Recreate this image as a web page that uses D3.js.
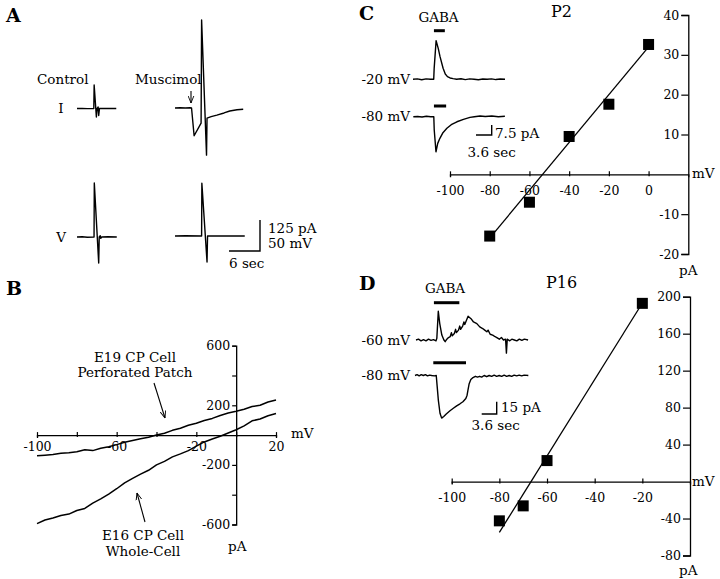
<!DOCTYPE html>
<html><head><meta charset="utf-8">
<script src="https://cdn.jsdelivr.net/npm/d3@7"></script>
<style>body{margin:0;background:#fff}svg{display:block}</style>
</head><body>
<script>
// ---------------- DATA ----------------
// Panel A traces: [time (s), current pA or voltage mV]
const controlI = [[0,0],[1,0.5],[2,-0.5],[3.25,0],[3.32,95],[3.75,-34],[3.9,0],[4.1,6],[4.2,-28],[4.35,0],[5,0.5],[6,0],[7.6,0]];
const muscimolI = [[0,0],[1,1],[2,0],[2.9,1],[3.2,0],[3.7,-112],[5.05,-61],[5.15,355],[6.1,-190],[6.2,-41],[7,-35],[8.1,-29],[9.5,-20],[10.6,-12],[12,-7],[13.2,-5]];
const controlV = [[0,0],[1,0.5],[2,-0.5],[3.3,0],[3.35,87],[4.2,-42],[4.3,0],[4.5,2],[4.6,-2],[4.8,0],[6,0.5],[7.7,0]];
const muscimolV = [[0,0],[2,0.5],[5.15,0],[5.2,85],[6.2,-42],[6.3,0],[13.5,0]];
const scaleA = {sec:6, pA:125, mV:50};

// Panel B I-V curves: [mV, pA]
const e19 = [[-100,-139],[-96,-135],[-92,-130],[-88,-122],[-84,-118],[-80,-112],[-76,-98],[-72,-104],[-68,-88],[-64,-78],[-60,-64],[-56,-48],[-52,-36],[-48,-24],[-44,-14],[-40,0],[-36,12],[-32,32],[-28,46],[-24,66],[-20,80],[-16,98],[-12,112],[-8,132],[-4,148],[0,160],[4,174],[8,192],[12,200],[16,222],[20,236]];
const e16 = [[-100,-594],[-96,-570],[-92,-556],[-88,-540],[-84,-530],[-80,-506],[-76,-492],[-72,-456],[-68,-428],[-64,-396],[-60,-360],[-56,-320],[-52,-290],[-48,-262],[-44,-236],[-40,-200],[-36,-176],[-32,-146],[-28,-126],[-24,-104],[-20,-74],[-16,-46],[-12,-26],[-8,-8],[-4,14],[0,36],[4,62],[8,96],[12,108],[16,130],[20,145]];
const bXTicks = [-100,-80,-60,-40,-20,0,20], bXLabels = [-100,-60,-20,20];
const bYTicks = [-600,-400,-200,200,400,600], bYLabels = [-600,-200,200,600];

// Panel C (P2)
const cMV = [-80,-60,-40,-20,0];
const cPA = [-15.5,-7.0,9.5,17.6,32.6];
const cFit = [[-77.5,-14.5],[0,32]];
const cXTicks = [-100,-80,-60,-40,-20,0];
const cYTicks = [-20,-10,10,20,30,40];
const cTraceM20 = [[0,0],[1,0.3],[2,-0.3],[3,0.3],[4,0],[4.75,0],[4.85,8],[5.3,29],[5.8,23],[6.2,17],[6.9,8.3],[7.4,4],[7.9,2],[8.5,1],[9.2,0.5],[10,0],[11,0.4],[12,-0.2],[13,0.3],[14,0],[15,-0.3],[16,0.2],[17,0],[18,0.3],[19,-0.2],[20,0.2],[21.1,0]];
const cTraceM80 = [[0,0],[1,0.2],[2,-0.2],[3,0.3],[4,0],[4.7,0],[4.8,-10],[5.2,-26.3],[5.6,-20],[6.1,-16.2],[6.8,-12],[7.7,-8.7],[8.7,-6],[10,-3.8],[11.5,-2],[13,-0.5],[14,0],[15.3,0.5],[16.5,0.2],[18,0.5],[19.5,0],[21,0.3]];
const cGaba = [[4.8,7.3],[4.8,7.6]];
const cScale = {sec:3.6, pA:7.5};

// Panel D (P16)
const dMV = [-80,-70,-60,-20];
const dPA = [-42.5,-26.3,22.7,192.8];
const dFit = [[-80,-55],[-20.5,191]];
const dXTicks = [-100,-80,-60,-40,-20];
const dYTicks = [-80,-40,40,80,120,160,200];
const dTraceM60 = [[0,0],[0.6,1],[1.2,-1],[1.8,0.5],[2.4,-1],[3,1],[3.6,-0.5],[4.2,0.5],[4.8,-1],[5.0,2],[5.35,35],[5.7,20],[6.2,6],[6.7,0],[7.0,-2],[7.4,1],[7.8,3],[8.2,4],[8.5,9],[8.7,5],[9.2,8],[9.5,13],[9.7,9],[10.2,12],[10.5,17],[10.7,13],[11.2,17],[11.5,22],[11.7,19],[12.5,29],[13.2,26],[13.8,22],[14.6,20],[15.3,16],[16,14],[16.5,12],[17,10],[17.3,12],[17.8,7],[18.4,6],[19,4],[19.4,3],[20,1],[20.5,3],[21,0],[21.5,1],[21.7,-16],[21.9,1],[22.5,-1],[23,1],[23.6,0],[24.2,-1],[24.8,1],[25.4,-0.5],[26,1],[26.9,0]];
const dTraceM80 = [[0,0],[0.5,1],[1,-0.5],[1.5,1],[2,0],[2.5,1],[3,-0.5],[3.5,0.5],[4,0],[4.6,-0.5],[5.1,0],[5.3,-12],[5.6,-30],[6,-46],[6.4,-52],[6.9,-50],[7.5,-47],[8.4,-43],[9.2,-40],[10,-37],[10.8,-34.5],[11.5,-32],[12.2,-28],[12.5,-24],[12.7,-18],[13,-10],[13.4,-5],[13.8,-3],[14.5,-1],[15,-2],[15.5,-1],[16,-2],[16.6,0],[17.2,-1.5],[17.8,0],[18.4,-1],[19,0.5],[19.6,-1],[20.2,0],[20.8,-1],[21.4,0.5],[22,-1],[22.6,0],[23.2,-1],[23.8,0.5],[24.4,-0.5],[25,0.5],[25.6,-0.5],[26.2,0.5],[27.2,0]];
const dGaba = [[4.3,10.4],[4.15,12]];
const dScale = {sec:3.6, pA:15};

// ---------------- DRAW ----------------
const FONT = "'DejaVu Serif', 'Liberation Serif', serif";
const svg = d3.select('body').append('svg').attr('width',720).attr('height',579)
  .style('font-family',FONT);
svg.append('rect').attr('width',720).attr('height',579).attr('fill','#fff');

const defs = svg.append('defs');
defs.append('marker').attr('id','arr').attr('viewBox','0 0 10 10').attr('refX',10).attr('refY',5)
  .attr('markerWidth',7).attr('markerHeight',7).attr('markerUnits','userSpaceOnUse').attr('orient','auto')
  .append('path').attr('d','M0,1 L10,5 L0,9').attr('fill','none').attr('stroke','#000').attr('stroke-width',1.3);

function text(x,y,s,size,opts={}){
  const t = svg.append('text').attr('x',x).attr('y',y).text(s).attr('font-size',size).attr('fill','#000');
  if(opts.anchor) t.attr('text-anchor',opts.anchor);
  if(opts.bold) t.attr('font-weight','bold');
  return t;
}
const line = d3.line();

function trace(data, ox, oy, ts, vs, sw=1.4){
  svg.append('path').attr('transform',`translate(${ox},${oy})`)
    .attr('d', line(data.map(d=>[ts(d[0]), vs(d[1])])))
    .attr('fill','none').attr('stroke','#000').attr('stroke-width',sw).attr('stroke-linejoin','round');
}

// Panel letters
text(6,22,'A',19,{bold:true});
text(6,295,'B',19,{bold:true});
text(359,20,'C',19,{bold:true});
text(359,290,'D',19,{bold:true});

// ---- Panel A ----
const tA = d3.scaleLinear().domain([0,scaleA.sec]).range([0,31]);
const iA = d3.scaleLinear().domain([0,scaleA.pA]).range([0,-31]);
const vA = d3.scaleLinear().domain([0,scaleA.mV]).range([0,-31]);
trace(controlI, 77, 108.5, tA, iA);
trace(muscimolI, 175, 108, tA, iA);
trace(controlV, 77, 237, tA, vA);
trace(muscimolV, 175, 236, tA, vA);
text(37,84,'Control',13.5);
text(135,84,'Muscimol',13.5);
svg.append('line').attr('x1',191).attr('y1',91).attr('x2',191).attr('y2',103)
  .attr('stroke','#000').attr('stroke-width',1.1).attr('marker-end','url(#arr)');
text(61,113,'I',13.5,{anchor:'middle'});
text(61,242,'V',13.5,{anchor:'middle'});
// scale bar
svg.append('path').attr('d',`M${260+tA(-scaleA.sec)},251 H260 V${251+iA(scaleA.pA)}`)
  .attr('fill','none').attr('stroke','#000').attr('stroke-width',1.4);
text(268,233,'125 pA',13.5);
text(268,248,'50 mV',13.5);
text(229,268,'6 sec',13.5);

// ---- axis helpers ----
function styleAxis(g){
  g.attr('font-family',FONT).attr('font-size',12.5);
  g.selectAll('path.domain').attr('stroke','#000').attr('stroke-width',1.3);
  g.selectAll('.tick line').attr('stroke','#000').attr('stroke-width',1.2);
  g.selectAll('.tick text').attr('fill','#000');
}
function xAxis(scale, y0, ticks, labels, labelBase){
  const g = svg.append('g').attr('transform',`translate(0,${y0})`)
    .call(d3.axisBottom(scale).tickValues(ticks).tickSizeOuter(0).tickSize(3)
      .tickFormat(d=> labels.includes(d) ? String(d) : ''));
  g.selectAll('.tick line').attr('y1',-3).attr('y2',2);
  g.selectAll('.tick text').attr('y',labelBase).attr('dy',0);
  styleAxis(g);
  return g;
}
function yAxis(scale, x0, ticks, labels, len){
  const g = svg.append('g').attr('transform',`translate(${x0},0)`)
    .call(d3.axisLeft(scale).tickValues(ticks).tickSizeOuter(0).tickSize(len).tickPadding(2)
      .tickFormat(d=> labels.includes(d) ? String(d) : ''));
  styleAxis(g);
  return g;
}

// ---- Panel B ----
const xB = d3.scaleLinear().domain([-100,20]).range([37,276]);
const yB = d3.scaleLinear().domain([-600,600]).range([524.5,345.7]);
xAxis(xB, yB(0), bXTicks, bXLabels, 16);
yAxis(yB, xB(0), bYTicks, bYLabels, 4);
const lineB = d3.line().x(d=>xB(d[0])).y(d=>yB(d[1]));
[e19,e16].forEach(s=> svg.append('path').attr('d',lineB(s)).attr('fill','none')
  .attr('stroke','#000').attr('stroke-width',1.5).attr('stroke-linejoin','round'));
text(291,438,'mV',13.5);
text(228,551,'pA',13.5);
text(135,362,'E19 CP Cell',13.5,{anchor:'middle'});
text(135,377,'Perforated Patch',13.5,{anchor:'middle'});
text(143,540,'E16 CP Cell',13.5,{anchor:'middle'});
text(143,556,'Whole-Cell',13.5,{anchor:'middle'});
svg.append('line').attr('x1',154).attr('y1',383).attr('x2',165).attr('y2',418)
  .attr('stroke','#000').attr('stroke-width',1.1).attr('marker-end','url(#arr)');
svg.append('line').attr('x1',145).attr('y1',522).attr('x2',137).attr('y2',493)
  .attr('stroke','#000').attr('stroke-width',1.1).attr('marker-end','url(#arr)');

// ---- Panel C ----
const xC = d3.scaleLinear().domain([-100,20]).range([450,688.3]);
const yC = d3.scaleLinear().domain([-20,40]).range([254,15]);
xAxis(xC, yC(0), cXTicks, cXTicks, 21);
yAxis(yC, xC(20), cYTicks, cYTicks, 7);
svg.append('line').attr('x1',xC(cFit[0][0])).attr('y1',yC(cFit[0][1]))
  .attr('x2',xC(cFit[1][0])).attr('y2',yC(cFit[1][1])).attr('stroke','#000').attr('stroke-width',1.3);
svg.selectAll('rect.sqC').data(cMV).join('rect').attr('class','sqC')
  .attr('x',(d)=>xC(d)-5.5).attr('y',(d,i)=>yC(cPA[i])-5.5).attr('width',11).attr('height',11).attr('fill','#000');
text(561.5,17,'P2',16,{anchor:'middle'});
text(692,178,'mV',13.5);
text(679,275,'pA',13.5);
// inset traces
const tC = d3.scaleLinear().domain([0,cScale.sec]).range([0,15.7]);
const iC = d3.scaleLinear().domain([0,cScale.pA]).range([0,-10]);
trace(cTraceM20, 413, 79.3, tC, iC);
trace(cTraceM80, 413.3, 116.7, tC, iC);
svg.append('line').attr('x1',413+tC(cGaba[0][0])).attr('x2',413+tC(cGaba[0][1])).attr('y1',30.7).attr('y2',30.7)
  .attr('stroke','#000').attr('stroke-width',3);
svg.append('line').attr('x1',413+tC(cGaba[1][0])).attr('x2',413+tC(cGaba[1][1])).attr('y1',106).attr('y2',106)
  .attr('stroke','#000').attr('stroke-width',3);
text(438.5,22,'GABA',13.5,{anchor:'middle'});
text(410,84,'-20 mV',13.5,{anchor:'end'});
text(410,121,'-80 mV',13.5,{anchor:'end'});
svg.append('path').attr('d',`M${491.7-tC(cScale.sec)},135 H491.7 V${135+iC(cScale.pA)}`)
  .attr('fill','none').attr('stroke','#000').attr('stroke-width',1.4);
text(495,138,'7.5 pA',13.5);
text(467.5,157,'3.6 sec',13.5);

// ---- Panel D ----
const xD = d3.scaleLinear().domain([-100,0]).range([451.7,690]);
const yD = d3.scaleLinear().domain([-80,200]).range([555.5,296.7]);
xAxis(xD, yD(0), dXTicks, dXTicks, 20);
yAxis(yD, xD(0), dYTicks, dYTicks, 7);
svg.append('line').attr('x1',xD(dFit[0][0])).attr('y1',yD(dFit[0][1]))
  .attr('x2',xD(dFit[1][0])).attr('y2',yD(dFit[1][1])).attr('stroke','#000').attr('stroke-width',1.3);
svg.selectAll('rect.sqD').data(dMV).join('rect').attr('class','sqD')
  .attr('x',(d)=>xD(d)-5.5).attr('y',(d,i)=>yD(dPA[i])-5.5).attr('width',11).attr('height',11).attr('fill','#000');
text(561.5,288,'P16',16,{anchor:'middle'});
text(692,486,'mV',13.5);
text(679,575,'pA',13.5);
const tD = d3.scaleLinear().domain([0,dScale.sec]).range([0,15]);
const iD = d3.scaleLinear().domain([0,dScale.pA]).range([0,-12.3]);
trace(dTraceM60, 416, 340, tD, iD);
trace(dTraceM80, 415, 375.5, tD, iD);
svg.append('line').attr('x1',416+tD(dGaba[0][0])).attr('x2',416+tD(dGaba[0][1])).attr('y1',302.7).attr('y2',302.7)
  .attr('stroke','#000').attr('stroke-width',3);
svg.append('line').attr('x1',416+tD(dGaba[1][0])).attr('x2',416+tD(dGaba[1][1])).attr('y1',362.7).attr('y2',362.7)
  .attr('stroke','#000').attr('stroke-width',3);
text(445,293,'GABA',13.5,{anchor:'middle'});
text(410,345,'-60 mV',13.5,{anchor:'end'});
text(410,380,'-80 mV',13.5,{anchor:'end'});
svg.append('path').attr('d',`M${496.7-tD(dScale.sec)},414 H496.7 V${414+iD(dScale.pA)}`)
  .attr('fill','none').attr('stroke','#000').attr('stroke-width',1.4);
text(501,412,'15 pA',13.5);
text(471.5,430,'3.6 sec',13.5);
</script>
</body></html>
